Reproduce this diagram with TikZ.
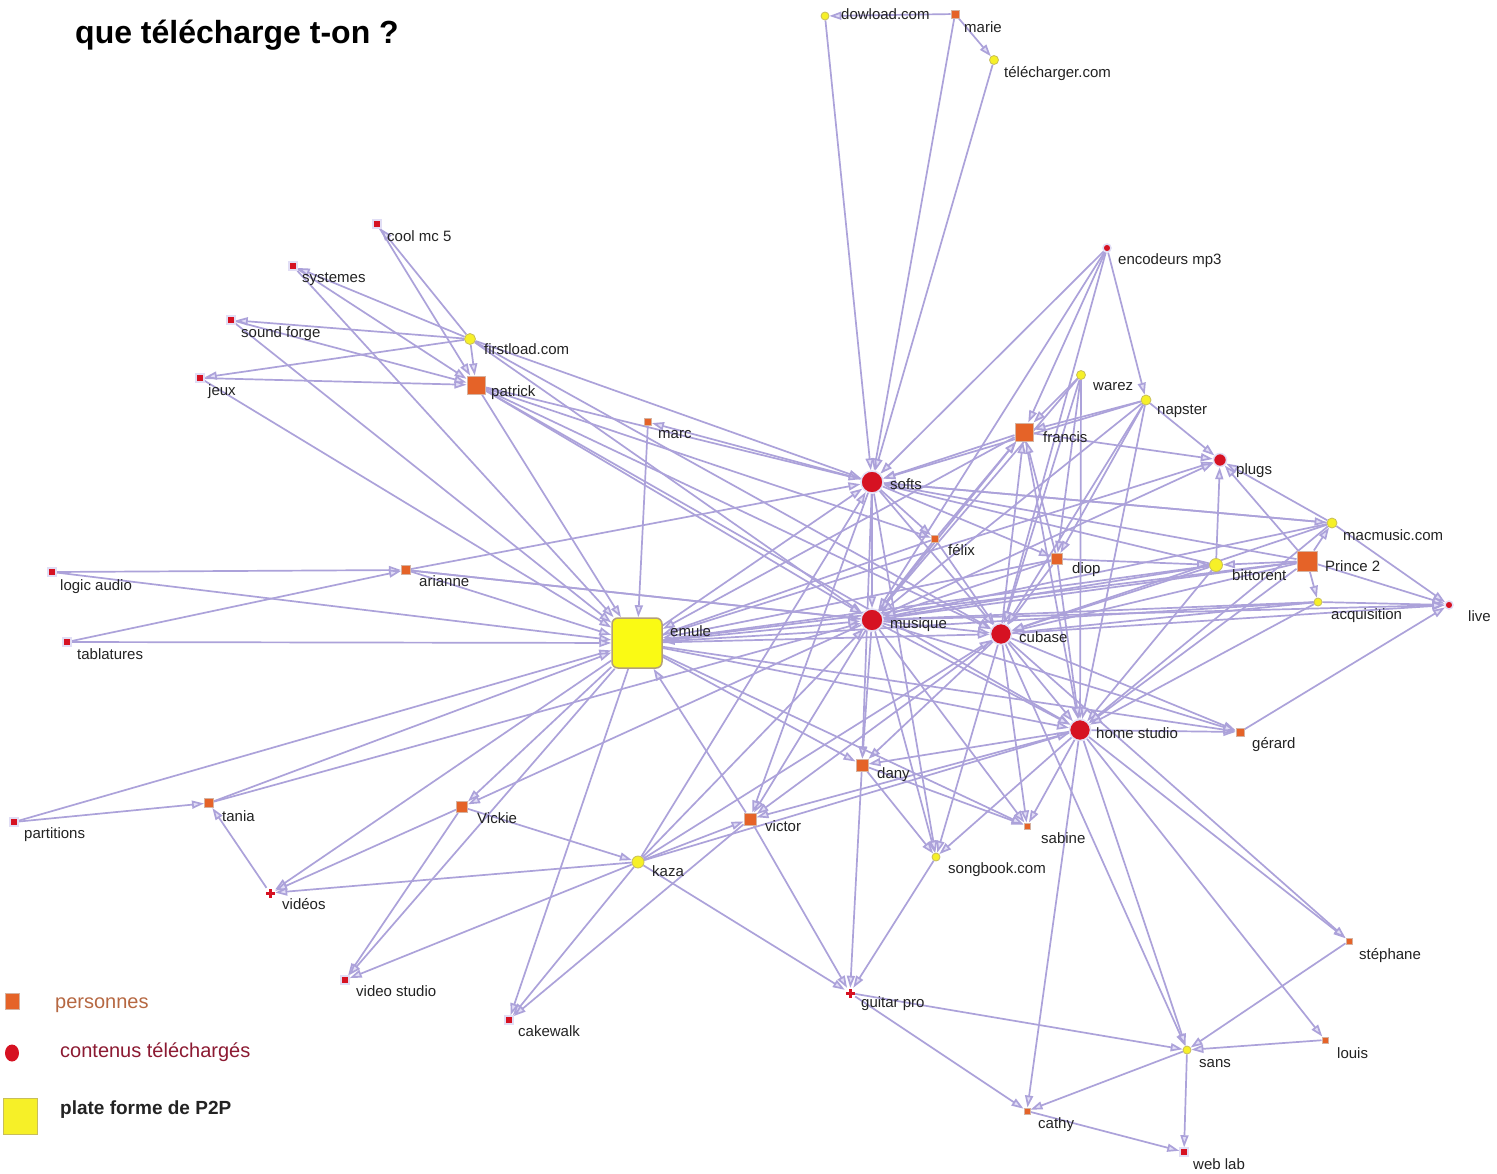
\documentclass[tikz,border=0pt]{standalone}
\usepackage{fontspec}
\setmainfont{Liberation Sans}
\usetikzlibrary{arrows.meta,shapes.geometric}
\pgfdeclarelayer{bg}
\pgfsetlayers{bg,main}
\definecolor{edgec}{RGB}{172,162,218}
\definecolor{arrfill}{RGB}{226,222,246}
\definecolor{orng}{RGB}{229,99,40}
\definecolor{orngb}{RGB}{214,178,160}
\definecolor{nred}{RGB}{214,18,34}
\definecolor{halo}{RGB}{225,222,245}
\definecolor{ylw}{RGB}{246,240,40}
\definecolor{ylwb}{RGB}{200,190,90}
\definecolor{emy}{RGB}{250,250,20}
\definecolor{emb}{RGB}{180,160,120}
\definecolor{txt}{RGB}{35,35,35}
\definecolor{legp}{RGB}{182,104,66}
\definecolor{legc}{RGB}{140,26,50}
\begin{document}
\begin{tikzpicture}[x=1pt,y=-1pt,
  lnk/.style={draw=edgec, line width=1.7pt, -{Triangle[length=12pt,width=8pt,fill=arrfill]}},
  plat/.style={circle, fill=ylw, draw=ylwb, line width=0.8pt, inner sep=0, minimum size=#1},
  pers/.style={rectangle, fill=orng, draw=orngb, line width=1pt, inner sep=0, minimum size=#1},
  cont/.style={circle, fill=nred, draw=halo, line width=1.5pt, inner sep=0, minimum size=#1},
  sq/.style={rectangle, fill=nred, draw=halo, line width=1.5pt, inner sep=0, minimum size=8pt},
  crossn/.style={rectangle, inner sep=0, minimum size=10pt,
    path picture={\fill[nred] ([xshift=-4.5pt,yshift=-1.5pt]path picture bounding box.center) rectangle ([xshift=4.5pt,yshift=1.5pt]path picture bounding box.center);
      \fill[nred] ([xshift=-1.5pt,yshift=-4.5pt]path picture bounding box.center) rectangle ([xshift=1.5pt,yshift=4.5pt]path picture bounding box.center);}},
  emul/.style={rectangle, rounded corners=6pt, fill=emy, draw=emb, line width=1.5pt, inner sep=0, minimum size=50pt},
  lbl/.style={anchor=base west, inner sep=0, text=txt, font=\fontsize{15}{18}\selectfont}
]
\useasboundingbox (0,0) rectangle (1497,1173);

\node[anchor=base west, inner sep=0, font=\bfseries\fontsize{32}{36}\selectfont] (title) at (75,43) {que télécharge t-on ?};

% platforms
\node[plat=8] (dow) at (825,16) {};
\node[plat=9] (tel) at (994,60) {};
\node[plat=11] (fst) at (470,339) {};
\node[plat=9] (warez) at (1081,375) {};
\node[plat=10] (nap) at (1146,400) {};
\node[plat=13] (bit) at (1216,565) {};
\node[plat=10] (mac) at (1332,523) {};
\node[plat=8] (acq) at (1318,602) {};
\node[plat=12] (kaza) at (638,862) {};
\node[plat=8] (song) at (936,857) {};
\node[plat=8] (sans) at (1187,1050) {};
\node[emul] (emule) at (637,643) {};

% persons
\node[pers=8] (mar) at (955,14) {};
\node[pers=18] (pat) at (476,385) {};
\node[pers=7] (marc) at (648,422) {};
\node[pers=18] (fra) at (1024,432) {};
\node[pers=7] (felix) at (935,539) {};
\node[pers=11] (diop) at (1057,559) {};
\node[pers=20] (pri) at (1307,561) {};
\node[pers=9] (ari) at (406,570) {};
\node[pers=9] (tania) at (209,803) {};
\node[pers=11] (vick) at (462,807) {};
\node[pers=12] (vic) at (750,819) {};
\node[pers=12] (dany) at (862,765) {};
\node[pers=8] (ger) at (1240,732) {};
\node[pers=6] (sab) at (1027,826) {};
\node[pers=6] (steph) at (1349,941) {};
\node[pers=6] (louis) at (1325,1040) {};
\node[pers=6] (cathy) at (1027,1111) {};

% contents
\node[cont=22] (softs) at (872,482) {};
\node[cont=22] (mus) at (872,620) {};
\node[cont=21] (cub) at (1001,634) {};
\node[cont=21] (home) at (1080,730) {};
\node[cont=13] (plugs) at (1220,460) {};
\node[cont=8] (enc) at (1107,248) {};
\node[cont=8] (live) at (1449,605) {};
\node[sq] (cool) at (377,224) {};
\node[sq] (sys) at (293,266) {};
\node[sq] (snd) at (231,320) {};
\node[sq] (jeux) at (200,378) {};
\node[sq] (logic) at (52,572) {};
\node[sq] (tab) at (67,642) {};
\node[sq] (part) at (14,822) {};
\node[sq] (vstu) at (345,980) {};
\node[sq] (cake) at (509,1020) {};
\node[sq] (web) at (1184,1152) {};
\node[crossn] (vid) at (270,893) {};
\node[crossn] (gui) at (850,993) {};

% labels
\node[lbl] (dowL) at (841,19) {dowload.com};
\node[lbl] (marL) at (964,32) {marie};
\node[lbl] (telL) at (1004,77) {télécharger.com};
\node[lbl] (coolL) at (387,241) {cool mc 5};
\node[lbl] (sysL) at (302,282) {systemes};
\node[lbl] (sndL) at (241,337) {sound forge};
\node[lbl] (jeuxL) at (208,395) {jeux};
\node[lbl] (fstL) at (484,354) {firstload.com};
\node[lbl] (patL) at (491,396) {patrick};
\node[lbl] (marcL) at (658,438) {marc};
\node[lbl] (softsL) at (890,489) {softs};
\node[lbl] (encL) at (1118,264) {encodeurs mp3};
\node[lbl] (warezL) at (1093,390) {warez};
\node[lbl] (napL) at (1157,414) {napster};
\node[lbl] (fraL) at (1043,442) {francis};
\node[lbl] (plugsL) at (1236,474) {plugs};
\node[lbl] (felixL) at (948,555) {félix};
\node[lbl] (diopL) at (1072,573) {diop};
\node[lbl] (macL) at (1343,540) {macmusic.com};
\node[lbl] (bitL) at (1232,580) {bittorent};
\node[lbl] (priL) at (1325,571) {Prince 2};
\node[lbl] (acqL) at (1331,619) {acquisition};
\node[lbl] (liveL) at (1468,621) {live};
\node[lbl] (logicL) at (60,590) {logic audio};
\node[lbl] (tabL) at (77,659) {tablatures};
\node[lbl] (ariL) at (419,586) {arianne};
\node[lbl] (emuleL) at (670,636) {emule};
\node[lbl] (musL) at (890,628) {musique};
\node[lbl] (cubL) at (1019,642) {cubase};
\node[lbl] (homeL) at (1096,738) {home studio};
\node[lbl] (gerL) at (1252,748) {gérard};
\node[lbl] (danyL) at (877,778) {dany};
\node[lbl] (vicL) at (765,831) {victor};
\node[lbl] (vickL) at (477,823) {Vickie};
\node[lbl] (taniaL) at (222,821) {tania};
\node[lbl] (partL) at (24,838) {partitions};
\node[lbl] (kazaL) at (652,876) {kaza};
\node[lbl] (sabL) at (1041,843) {sabine};
\node[lbl] (songL) at (948,873) {songbook.com};
\node[lbl] (vidL) at (282,909) {vidéos};
\node[lbl] (vstuL) at (356,996) {video studio};
\node[lbl] (cakeL) at (518,1036) {cakewalk};
\node[lbl] (guiL) at (861,1007) {guitar pro};
\node[lbl] (stephL) at (1359,959) {stéphane};
\node[lbl] (sansL) at (1199,1067) {sans};
\node[lbl] (louisL) at (1337,1058) {louis};
\node[lbl] (cathyL) at (1038,1128) {cathy};
\node[lbl] (webL) at (1193,1169) {web lab};

% legend
\node[rectangle, fill=orng, draw=orngb, line width=0.8pt, minimum width=14pt, minimum height=16pt, inner sep=0] (legP) at (12,1001) {};
\node[ellipse, fill=nred, minimum width=14pt, minimum height=17pt, inner sep=0] (legC) at (12,1053) {};
\node[rectangle, fill=ylw, draw=ylwb, line width=0.6pt, minimum width=34pt, minimum height=36pt, inner sep=0] (legY) at (20,1116) {};
\node[anchor=base west, inner sep=0, text=legp, font=\fontsize{20}{24}\selectfont] (legPt) at (55,1008) {personnes};
\node[anchor=base west, inner sep=0, text=legc, font=\fontsize{20}{24}\selectfont] (legCt) at (60,1057) {contenus téléchargés};
\node[anchor=base west, inner sep=0, text=txt, font=\bfseries\fontsize{19}{22}\selectfont] (legYt) at (60,1114) {plate forme de P2P};

\begin{pgfonlayer}{bg}
\fill[white] (0,0) rectangle (1497,1173);
\foreach \a/\b in {mar/dow, mar/tel, dow/softs, mar/softs, tel/softs,
  fst/cool, fst/sys, fst/snd, fst/jeux, fst/pat, cool/pat, sys/pat, snd/pat, jeux/pat,
  sys/emule, snd/emule, jeux/emule, fst/softs, fst/mus, fst/cub,
  pat/softs, pat/emule, pat/mus, pat/cub, pat/home, pat/felix,
  marc/emule, softs/marc,
  logic/ari, tab/ari, logic/emule, tab/emule,
  ari/emule, ari/softs, ari/mus, ari/cub,
  part/tania, part/emule, tania/emule, tania/mus, vid/tania,
  emule/vid, vick/vid, kaza/vid,
  vick/vstu, emule/vstu, kaza/vstu,
  emule/cake, kaza/cake, vic/cake,
  emule/vick, mus/vick, vick/kaza,
  kaza/vic, kaza/softs, kaza/mus, kaza/cub, kaza/home, kaza/gui,
  vic/emule, mus/vic, cub/vic, home/vic, softs/vic, vic/gui,
  emule/dany, mus/dany, softs/dany, cub/dany, home/dany, dany/gui, dany/song, dany/sab,
  mus/song, cub/song, softs/song, home/song, song/gui,
  mus/sab, cub/sab, home/sab, emule/sab,
  gui/sans, gui/cathy, home/cathy, sans/cathy, cathy/web,
  cub/sans, home/sans, louis/sans, steph/sans, sans/web,
  home/louis, home/steph, cub/steph,
  home/ger, ger/live, emule/ger, cub/ger, mus/ger,
  warez/home, nap/home, fra/home, diop/home, bit/home, pri/home, acq/home, mac/home, emule/home, mus/home, cub/home,
  pri/live, mac/live, acq/live, cub/live, mus/live,
  pri/acq, acq/cub, acq/mus, acq/emule,
  pri/plugs, pri/mac, pri/bit, pri/softs, pri/mus, pri/cub, pri/emule,
  bit/plugs, bit/softs, bit/mus, bit/cub, bit/emule, diop/bit,
  mac/softs, mac/plugs, mac/mus, mac/cub,
  fra/plugs, nap/plugs, emule/plugs, mus/plugs,
  enc/fra, warez/fra, nap/fra, cub/fra, diop/fra, mus/fra, fra/softs, fra/emule,
  softs/felix, felix/fra, felix/cub, felix/mus, felix/emule,
  softs/diop, diop/cub, diop/mus, diop/emule, nap/diop, warez/diop,
  enc/softs, enc/nap, enc/cub, enc/mus,
  warez/mus, warez/cub, nap/cub, nap/softs, nap/mus,
  softs/mac, softs/mus, softs/cub, emule/softs, emule/mus, emule/cub}
  \draw[lnk] (\a) -- (\b);
\end{pgfonlayer}
\end{tikzpicture}
\end{document}
